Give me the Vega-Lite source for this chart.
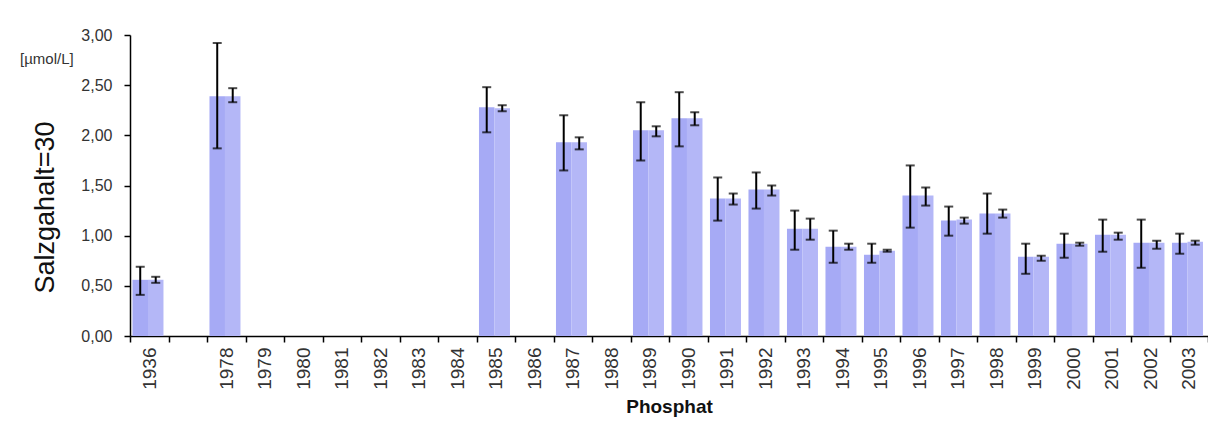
{
  "$schema": "https://vega.github.io/schema/vega-lite/v6.json",
  "autosize": "none",
  "width": 1078,
  "height": 301,
  "padding": {"left": 130, "top": 35, "right": 0, "bottom": 91},
  "background": "white",
  "config": {
    "view": {"stroke": null},
    "font": "Liberation Sans"
  },
  "title": {
    "text": "[µmol/L]",
    "anchor": "start",
    "frame": "group",
    "orient": "top",
    "offset": 0,
    "dx": -110,
    "dy": 40,
    "fontSize": 15,
    "fontWeight": "normal",
    "color": "#333333",
    "font": "Liberation Sans"
  },
  "data": {
    "values": [
      {"year": "1936", "series": "A", "value": 0.56, "lo": 0.41, "hi": 0.69},
      {"year": "1936", "series": "B", "value": 0.56, "lo": 0.53, "hi": 0.59},
      {"year": "1978", "series": "A", "value": 2.39, "lo": 1.87, "hi": 2.92},
      {"year": "1978", "series": "B", "value": 2.39, "lo": 2.33, "hi": 2.47},
      {"year": "1985", "series": "A", "value": 2.28, "lo": 2.03, "hi": 2.48},
      {"year": "1985", "series": "B", "value": 2.27, "lo": 2.24, "hi": 2.30},
      {"year": "1987", "series": "A", "value": 1.93, "lo": 1.65, "hi": 2.20},
      {"year": "1987", "series": "B", "value": 1.93, "lo": 1.86, "hi": 1.98},
      {"year": "1989", "series": "A", "value": 2.05, "lo": 1.75, "hi": 2.33},
      {"year": "1989", "series": "B", "value": 2.05, "lo": 1.99, "hi": 2.09},
      {"year": "1990", "series": "A", "value": 2.17, "lo": 1.89, "hi": 2.43},
      {"year": "1990", "series": "B", "value": 2.17, "lo": 2.10, "hi": 2.23},
      {"year": "1991", "series": "A", "value": 1.37, "lo": 1.15, "hi": 1.58},
      {"year": "1991", "series": "B", "value": 1.37, "lo": 1.31, "hi": 1.42},
      {"year": "1992", "series": "A", "value": 1.46, "lo": 1.27, "hi": 1.63},
      {"year": "1992", "series": "B", "value": 1.46, "lo": 1.40, "hi": 1.50},
      {"year": "1993", "series": "A", "value": 1.07, "lo": 0.86, "hi": 1.25},
      {"year": "1993", "series": "B", "value": 1.07, "lo": 0.96, "hi": 1.17},
      {"year": "1994", "series": "A", "value": 0.89, "lo": 0.73, "hi": 1.05},
      {"year": "1994", "series": "B", "value": 0.89, "lo": 0.86, "hi": 0.92},
      {"year": "1995", "series": "A", "value": 0.81, "lo": 0.73, "hi": 0.92},
      {"year": "1995", "series": "B", "value": 0.85, "lo": 0.84, "hi": 0.86},
      {"year": "1996", "series": "A", "value": 1.40, "lo": 1.08, "hi": 1.70},
      {"year": "1996", "series": "B", "value": 1.40, "lo": 1.30, "hi": 1.48},
      {"year": "1997", "series": "A", "value": 1.15, "lo": 1.00, "hi": 1.29},
      {"year": "1997", "series": "B", "value": 1.16, "lo": 1.12, "hi": 1.18},
      {"year": "1998", "series": "A", "value": 1.22, "lo": 1.02, "hi": 1.42},
      {"year": "1998", "series": "B", "value": 1.22, "lo": 1.18, "hi": 1.26},
      {"year": "1999", "series": "A", "value": 0.79, "lo": 0.62, "hi": 0.92},
      {"year": "1999", "series": "B", "value": 0.79, "lo": 0.75, "hi": 0.80},
      {"year": "2000", "series": "A", "value": 0.92, "lo": 0.78, "hi": 1.02},
      {"year": "2000", "series": "B", "value": 0.92, "lo": 0.90, "hi": 0.93},
      {"year": "2001", "series": "A", "value": 1.01, "lo": 0.84, "hi": 1.16},
      {"year": "2001", "series": "B", "value": 1.01, "lo": 0.96, "hi": 1.03},
      {"year": "2002", "series": "A", "value": 0.93, "lo": 0.68, "hi": 1.16},
      {"year": "2002", "series": "B", "value": 0.93, "lo": 0.87, "hi": 0.95},
      {"year": "2003", "series": "A", "value": 0.93, "lo": 0.82, "hi": 1.02},
      {"year": "2003", "series": "B", "value": 0.94, "lo": 0.91, "hi": 0.95}
    ]
  },
  "encoding": {
    "x": {
      "field": "year",
      "type": "nominal",
      "sort": null,
      "scale": {
        "domain": ["1936", " ", "1978", "1979", "1980", "1981", "1982", "1983", "1984", "1985", "1986", "1987", "1988", "1989", "1990", "1991", "1992", "1993", "1994", "1995", "1996", "1997", "1998", "1999", "2000", "2001", "2002", "2003"],
        "paddingInner": 0,
        "paddingOuter": 0
      },
      "axis": {
        "title": "Phosphat",
        "titleFont": "Liberation Sans",
        "titleFontSize": 19,
        "titleFontWeight": "bold",
        "titleColor": "#111111",
        "titlePadding": 8,
        "labelAngle": -90,
        "labelFont": "Liberation Sans",
        "labelFontSize": 19,
        "labelColor": "#333333",
        "labelPadding": 5,
        "tickBand": "extent",
        "tickSize": 6,
        "tickColor": "#000000",
        "tickWidth": 1.5,
        "domainColor": "#000000",
        "domainWidth": 1.5,
        "grid": false
      }
    },
    "xOffset": {
      "field": "series",
      "type": "nominal",
      "scale": {"paddingInner": 0, "paddingOuter": 0.242, "align": 0.33}
    }
  },
  "layer": [
    {
      "mark": {"type": "bar", "stroke": null},
      "encoding": {
        "y": {
          "field": "value",
          "type": "quantitative",
          "scale": {"domain": [0, 3], "nice": false, "zero": true},
          "axis": {
            "title": "Salzgahalt=30",
            "titleFont": "Liberation Sans",
            "titleFontSize": 27,
            "titleFontWeight": "normal",
            "titleColor": "#111111",
            "titleAngle": -90,
            "titleBaseline": "middle",
            "titleX": -85,
            "titleY": 172,
            "values": [0, 0.25, 0.5, 0.75, 1, 1.25, 1.5, 1.75, 2, 2.25, 2.5, 2.75, 3],
            "labelExpr": "datum.value % 0.5 === 0 ? replace(format(datum.value, '.2f'), '.', ',') : ''",
            "labelFont": "Liberation Sans",
            "labelFontSize": 16,
            "labelColor": "#333333",
            "labelPadding": 12,
            "tickSize": {"condition": {"test": "datum.value % 0.5 !== 0", "value": 3}, "value": 6},
            "tickColor": "#000000",
            "tickWidth": 1.5,
            "domainColor": "#000000",
            "domainWidth": 1.5,
            "grid": false
          }
        },
        "color": {
          "field": "series",
          "type": "nominal",
          "scale": {"domain": ["A", "B"], "range": ["#a6aaf5", "#b4b7f7"]},
          "legend": null
        }
      }
    },
    {
      "mark": {"type": "rule", "color": "#000000", "strokeWidth": 2},
      "encoding": {
        "y": {"field": "lo", "type": "quantitative"},
        "y2": {"field": "hi"}
      }
    },
    {
      "mark": {"type": "tick", "color": "#000000", "thickness": 2, "size": 9},
      "encoding": {
        "y": {"field": "lo", "type": "quantitative"}
      }
    },
    {
      "mark": {"type": "tick", "color": "#000000", "thickness": 2, "size": 9},
      "encoding": {
        "y": {"field": "hi", "type": "quantitative"}
      }
    }
  ]
}
